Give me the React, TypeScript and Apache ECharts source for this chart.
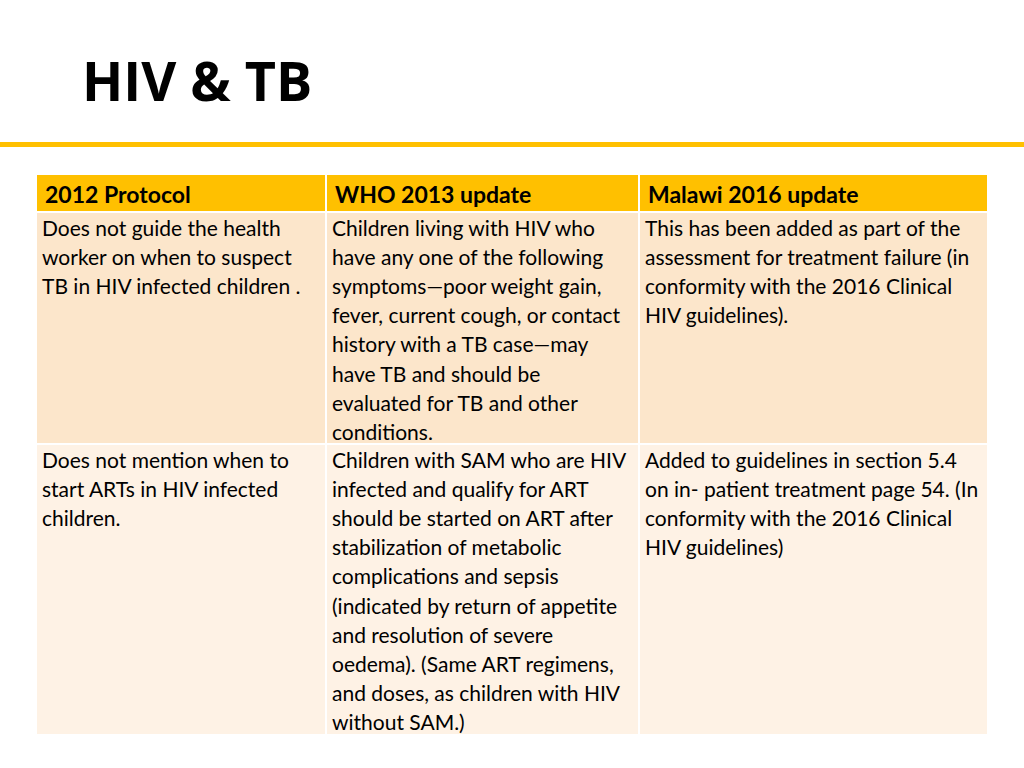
import React, { useEffect, useRef } from "react";
import * as echarts from "echarts";

const TITLE = "HIV & TB";
const HEADERS = ["2012 Protocol", "WHO 2013 update", "Malawi 2016 update"];
const ROW1 = [
  ["Does not guide the health", "worker on when to suspect", "TB in HIV infected children ."],
  [
    "Children living with HIV who",
    "have any one of the following",
    "symptoms\u2014poor weight gain,",
    "fever, current cough, or contact",
    "history with a TB case\u2014may",
    "have TB and should be",
    "evaluated for TB and other",
    "conditions.",
  ],
  [
    "This has been added as part of the",
    "assessment for treatment failure (in",
    "conformity with the 2016 Clinical",
    "HIV guidelines).",
  ],
];
const ROW2 = [
  ["Does not mention when to", "start ARTs in HIV infected", "children."],
  [
    "Children with SAM who are HIV",
    "infected and qualify for ART",
    "should be started on ART after",
    "stabilization of metabolic",
    "complications and sepsis",
    "(indicated by return of appetite",
    "and resolution of severe",
    "oedema). (Same ART regimens,",
    "and doses, as children with HIV",
    "without SAM.)",
  ],
  [
    "Added to guidelines in section 5.4",
    "on in- patient treatment page 54. (In",
    "conformity with the 2016 Clinical",
    "HIV guidelines)",
  ],
];

const COL_X = [37, 327, 640];
const COL_W = [288, 311, 347];
const HEAD_Y = 175, HEAD_H = 36;
const ROW_Y = [213, 445];
const ROW_H = [230, 289];
const ROW_FILL = ["#FCE6CB", "#FEF2E5"];
const LINE_H = 29.2;
const BODY_FONT = "Lato";
const BODY_SIZE = 21;
const HEAD_SIZE = 23;

export default function App() {
  const ref = useRef<HTMLDivElement>(null);
  useEffect(() => {
    document.body.style.margin = "0";
    const chart = echarts.init(ref.current!, undefined, { renderer: "svg" });
    const els: any[] = [];
    els.push({ type: "rect", shape: { x: 0, y: 0, width: 1024, height: 768 }, style: { fill: "#ffffff" } });
    els.push({
      type: "text", x: 82, y: 80,
      style: { text: TITLE, font: "bold 54px 'Open Sans'", fill: "#000", textVerticalAlign: "middle" },
    });
    els.push({ type: "rect", shape: { x: 0, y: 142, width: 1024, height: 5 }, style: { fill: "#FFC000" } });
    HEADERS.forEach((h, i) => {
      els.push({ type: "rect", shape: { x: COL_X[i], y: HEAD_Y, width: COL_W[i], height: HEAD_H }, style: { fill: "#FFC000" } });
      els.push({
        type: "text", x: COL_X[i] + 8, y: HEAD_Y + HEAD_H / 2 + 1,
        style: { text: h, font: `bold ${HEAD_SIZE}px ${BODY_FONT}`, fill: "#000", textVerticalAlign: "middle" },
      });
    });
    [ROW1, ROW2].forEach((row, r) => {
      row.forEach((lines, c) => {
        els.push({ type: "rect", shape: { x: COL_X[c], y: ROW_Y[r], width: COL_W[c], height: ROW_H[r] }, style: { fill: ROW_FILL[r] } });
        lines.forEach((ln, k) => {
          els.push({
            type: "text", x: COL_X[c] + 5, y: ROW_Y[r] + 14 + k * LINE_H,
            style: { text: ln, font: `${BODY_SIZE}px ${BODY_FONT}`, fill: "#000", textVerticalAlign: "middle" },
          });
        });
      });
    });
    chart.setOption({ animation: false, graphic: { elements: els } });
    return () => chart.dispose();
  }, []);
  return <div ref={ref} style={{ position: "absolute", left: 0, top: 0, width: 1024, height: 768 }} />;
}
